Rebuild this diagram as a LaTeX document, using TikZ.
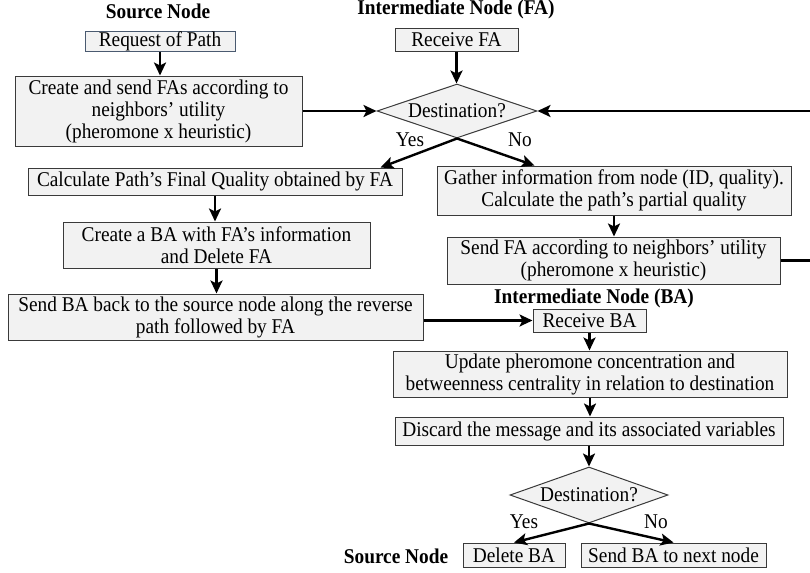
\documentclass[tikz,border=0pt]{standalone}
\usepackage{fontspec}
\setmainfont[FakeStretch=0.92]{Liberation Serif}
\usetikzlibrary{shapes.geometric,arrows.meta,calc}
\definecolor{boxfill}{HTML}{F2F2F2}
\definecolor{boxline}{HTML}{3A3A3A}
\definecolor{reqline}{HTML}{4A5A70}

\begin{document}
\begin{tikzpicture}[x=0.5pt, y=-0.5pt,
    every node/.style={font=\fontsize{10.5}{11}\selectfont, inner sep=0pt, align=center},
    box/.style={draw=boxline, fill=boxfill, line width=0.5pt},
    decision/.style={diamond, draw=boxline, fill=boxfill, line width=0.5pt, aspect=3},
    title/.style={font=\fontsize{10.5}{11}\selectfont\bfseries},
    arr/.style={line width=1.2pt, -{Stealth[length=6.5pt, width=6pt, inset=1.5pt]}}]
                \useasboundingbox (0,0) rectangle (810,573);
                % source node, forward ants
                \node[title] (tsrc) at (158,11) {Source Node};
                \node[box, draw=reqline, minimum width=75pt, minimum height=10pt] (req) at (160,41) {Request of Path};
                \node[box, minimum width=143.5pt, minimum height=35pt] (create) at (158.5,111) {Create and send FAs according to\\neighbors’ utility\\(pheromone x heuristic)};
                % intermediate node (FA)
                \node[title] (tfa) at (456,9) {Intermediate Node (FA)};
                \node[box, minimum width=61.5pt, minimum height=11.5pt] (recfa) at (456.5,39.5) {Receive FA};
                \node[decision, minimum width=80pt, minimum height=27pt] (dest1) at (457,111) {Destination?};
                \node (yes1) at (410,140) {Yes};
                \node (no1) at (520,140) {No};
                \node[box, minimum width=187pt, minimum height=13.5pt] (calc) at (215,181.5) {Calculate Path’s Final Quality obtained by FA};
                \node[box, minimum width=177pt, minimum height=24.5pt] (gather) at (614,190.5) {Gather information from node (ID, quality).\\Calculate the path’s partial quality};
                \node[box, minimum width=153.5pt, minimum height=23pt] (createba) at (216.5,245) {Create a BA with FA’s information\\and Delete FA};
                \node[box, minimum width=166.5pt, minimum height=23.5pt] (sendfa) at (613.5,260.5) {Send FA according to neighbors’ utility\\(pheromone x heuristic)};
                \node[box, minimum width=207.5pt, minimum height=23pt] (sendba) at (215.5,317) {Send BA back to the source node along the reverse\\path followed by FA};
                % intermediate node (BA)
                \node[title] (tba) at (594,298) {Intermediate Node (BA)};
                \node[box, minimum width=56.5pt, minimum height=11.5pt] (recba) at (589.5,320.5) {Receive BA};
                \node[box, minimum width=197pt, minimum height=23pt] (update) at (590,374) {Update pheromone concentration and\\betweenness centrality in relation to destination};
                \node[box, minimum width=194pt, minimum height=14pt] (discard) at (589,431) {Discard the message and its associated variables};
                \node[decision, minimum width=79pt, minimum height=28pt] (dest2) at (589,495) {Destination?};
                \node (yes2) at (524,522) {Yes};
                \node (no2) at (656,522) {No};
                \node[title] (tsrc2) at (396,556) {Source Node};
                \node[box, minimum width=51pt, minimum height=12pt] (delba) at (514,555) {Delete BA};
                \node[box, minimum width=92.5pt, minimum height=12pt] (nextba) at (673.5,555) {Send BA to next node};
                % connectors
                \foreach \a/\b in {req/create, recfa/dest1, calc/createba, createba/sendba, gather/sendfa, recba/update, update/discard, discard/dest2} {
                    \draw[arr] (\a.south) -- (\a.south |- \b.north);
                }
                \draw[arr] (create.east) -- (dest1.west);
                \draw[arr] (sendfa.east) -- ++(60,0) |- (dest1.east);
                \draw[arr] (dest1.south) -- ($(calc.north east)+(-22,0)$);
                \draw[arr] (dest1.south) -- ($(gather.north west)+(98,0)$);
                \draw[arr] (recba.west -| sendba.east) -- (recba.west);
                \draw[arr] (dest2.south) -- (delba.north);
                \draw[arr] (dest2.south) -- (nextba.north);
            \end{tikzpicture}
\end{document}
